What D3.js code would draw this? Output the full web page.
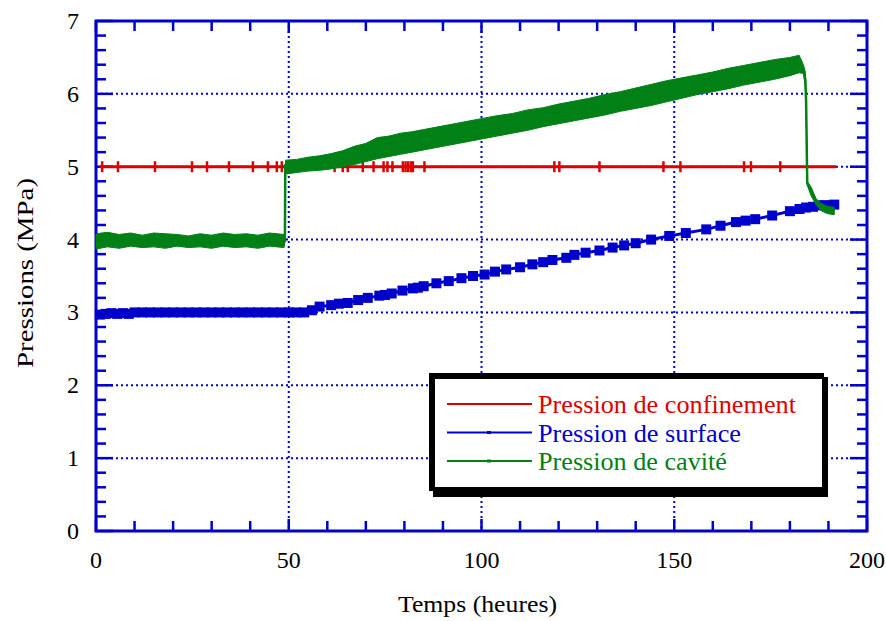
<!DOCTYPE html>
<html>
<head>
<meta charset="utf-8">
<script src="https://cdn.jsdelivr.net/npm/d3@7"></script>
<style>
  html, body { margin: 0; padding: 0; background: #fff; }
  svg { display: block; font-family: 'Liberation Serif', 'Times New Roman', serif; }
</style>
</head>
<body>
<div id="graph"></div>
<script>
// axis ticks
const X_MAJOR = [0, 50, 100, 150, 200],
      Y_MAJOR = [0, 1, 2, 3, 4, 5, 6, 7],
      X_MINOR = d3.range(0, 201, 10),
      Y_MINOR = d3.range(0, 7.01, 0.2)

// Pression de confinement (MPa): flat line + hours where a marker shows
const confinementHours = [1, 192],
      confinementValues = [5.0, 5.0],
      confinementMarks = [1.6, 5.7, 15.3, 24.9, 28.8, 34.5, 40.7, 44.6, 46.9, 48.2, 61.9, 64, 65.3,
        69.2, 72, 74.6, 75.6, 76.9, 79.6, 80.3, 81, 81.7, 82.2, 85.2, 118.9, 120.2, 130.6, 147.2,
        151.6, 168.1, 169.9, 177.5]

// Pression de surface (MPa)
const surfaceHours = [1, 2.5, 4, 5.5, 7, 8.5, 10, 12, 14, 16, 18, 20, 22, 24, 26, 28, 30, 32, 34,
        36, 38, 40, 42, 44, 46, 48, 50, 52, 54, 56, 58, 61, 63, 65.3, 68, 70.5, 73.5, 75, 76.7, 79.5,
        82.2, 83.5, 85, 88.3, 91.5, 94.8, 97.8, 100.8, 103.5, 106.4, 110, 113.2, 116, 118.4, 122,
        124.1, 127, 130.6, 134, 137, 140, 144, 148.7, 153, 158.3, 162, 166, 168.5, 171, 175.4, 180,
        182.5, 184.2, 186, 187.5, 189, 190.2, 191.5],
      surfaceValues = [2.97, 2.98, 2.99, 2.98, 2.99, 2.98, 3.0, 3.0, 3.0, 3.0, 3.0, 3.0, 3.0, 3.0,
        3.0, 3.0, 3.0, 3.0, 3.0, 3.0, 3.0, 3.0, 3.0, 3.0, 3.0, 3.0, 3.0, 3.0, 3.0, 3.03, 3.08, 3.1,
        3.12, 3.13, 3.17, 3.2, 3.23, 3.24, 3.26, 3.3, 3.33, 3.34, 3.36, 3.4, 3.43, 3.47, 3.5, 3.52,
        3.56, 3.59, 3.62, 3.66, 3.69, 3.72, 3.75, 3.79, 3.82, 3.85, 3.89, 3.92, 3.95, 4.0, 4.05, 4.09,
        4.14, 4.19, 4.24, 4.26, 4.28, 4.33, 4.39, 4.42, 4.44, 4.45, 4.47, 4.47, 4.47, 4.48]

// Pression de cavité (MPa): noisy band, read as low / high edges
const cavityHours = [0, 3, 6, 9, 12, 15, 18, 21, 24, 27, 30, 33, 36, 39, 42, 45, 48.8, 49, 49.1,
        49.2, 52, 55, 58, 61, 64, 67, 70, 73, 76, 79, 82, 85, 88, 91, 94, 97, 100, 104, 108, 112, 116,
        120, 124, 128, 132, 136, 140, 144, 148, 152, 156, 160, 164, 168, 172, 176, 180, 182.4, 183.5,
        184, 184.2, 184.5, 185.5, 186.8, 188, 189.5, 191.5],
      cavityLow = [3.87, 3.9, 3.88, 3.91, 3.89, 3.9, 3.88, 3.91, 3.89, 3.9, 3.88, 3.91, 3.89, 3.9,
        3.88, 3.91, 3.89, 3.98, 5.0, 4.9, 4.92, 4.94, 4.95, 4.97, 5.0, 5.03, 5.07, 5.11, 5.14, 5.17,
        5.2, 5.23, 5.26, 5.29, 5.32, 5.35, 5.38, 5.42, 5.46, 5.5, 5.55, 5.59, 5.63, 5.67, 5.71, 5.76,
        5.8, 5.84, 5.89, 5.94, 5.99, 6.03, 6.07, 6.12, 6.16, 6.2, 6.25, 6.29, 6.28, 6.1, 5.85, 4.75,
        4.6, 4.48, 4.4, 4.36, 4.34],
      cavityHigh = [4.08, 4.1, 4.07, 4.09, 4.06, 4.09, 4.08, 4.07, 4.05, 4.08, 4.06, 4.09, 4.07, 4.08,
        4.06, 4.09, 4.07, 3.98, 5.0, 5.09, 5.1, 5.13, 5.15, 5.18, 5.22, 5.28, 5.32, 5.4, 5.42, 5.46,
        5.48, 5.51, 5.54, 5.57, 5.6, 5.63, 5.66, 5.7, 5.73, 5.78, 5.81, 5.86, 5.9, 5.94, 5.99, 6.03,
        6.08, 6.13, 6.18, 6.22, 6.26, 6.3, 6.35, 6.39, 6.43, 6.47, 6.5, 6.53, 6.4, 6.3, 5.95, 4.8,
        4.72, 4.56, 4.5, 4.46, 4.44]

const legendKeys = [
  { title: 'Pression de confinement', color: '#dd0000', marker: 'arrow', width: 258 },
  { title: 'Pression de surface', color: '#0000cc', marker: 'square', width: 203 },
  { title: 'Pression de cavité', color: '#008015', marker: 'square', width: 189 }
]

const SIZE = { WIDTH: 886, HEIGHT: 621 },
      PLOT = { LEFT: 96, RIGHT: 867, TOP: 21, BOTTOM: 531 },
      AXIS_BLUE = '#0000cc'

const svg = d3.select('#graph')
  .append('svg')
  .attr('width', SIZE.WIDTH)
  .attr('height', SIZE.HEIGHT)

const x = d3.scaleLinear().domain([0, 200]).range([PLOT.LEFT, PLOT.RIGHT]),
      y = d3.scaleLinear().domain([0, 7]).range([PLOT.BOTTOM, PLOT.TOP])

// dotted grid
const grid = svg.append('g')
  .attr('stroke', AXIS_BLUE)
  .attr('stroke-width', 2)
  .attr('stroke-dasharray', '2,3')
grid.selectAll('.gx')
  .data(X_MAJOR.slice(1, -1))
  .enter().append('line')
  .attr('x1', d => x(d)).attr('x2', d => x(d))
  .attr('y1', PLOT.TOP).attr('y2', PLOT.BOTTOM)
grid.selectAll('.gy')
  .data(Y_MAJOR.slice(1, -1))
  .enter().append('line')
  .attr('x1', PLOT.LEFT).attr('x2', PLOT.RIGHT)
  .attr('y1', d => y(d)).attr('y2', d => y(d))

// ticks on all four sides
const ticks = svg.append('g')
  .attr('stroke', AXIS_BLUE)
  .attr('stroke-width', 2.5)
const xTickLen = d => X_MAJOR.includes(d) ? 12 : 10,
      yTickLen = d => Y_MAJOR.includes(Math.round(d * 10) / 10) ? 17 : 10
ticks.selectAll('.xb')
  .data(X_MINOR).enter().append('line')
  .attr('x1', d => x(d)).attr('x2', d => x(d))
  .attr('y1', PLOT.BOTTOM).attr('y2', d => PLOT.BOTTOM - xTickLen(d))
ticks.selectAll('.xt')
  .data(X_MINOR).enter().append('line')
  .attr('x1', d => x(d)).attr('x2', d => x(d))
  .attr('y1', PLOT.TOP).attr('y2', d => PLOT.TOP + xTickLen(d))
ticks.selectAll('.yl')
  .data(Y_MINOR).enter().append('line')
  .attr('y1', d => y(d)).attr('y2', d => y(d))
  .attr('x1', PLOT.LEFT).attr('x2', d => PLOT.LEFT + yTickLen(d))
ticks.selectAll('.yr')
  .data(Y_MINOR).enter().append('line')
  .attr('y1', d => y(d)).attr('y2', d => y(d))
  .attr('x1', PLOT.RIGHT).attr('x2', d => PLOT.RIGHT - yTickLen(d))

svg.append('rect')
  .attr('x', PLOT.LEFT).attr('y', PLOT.TOP)
  .attr('width', PLOT.RIGHT - PLOT.LEFT).attr('height', PLOT.BOTTOM - PLOT.TOP)
  .attr('fill', 'none')
  .attr('stroke', AXIS_BLUE)
  .attr('stroke-width', 3)

// tick labels
svg.append('g').selectAll('text')
  .data(Y_MAJOR).enter().append('text')
  .attr('x', 79).attr('y', d => y(d) + 8)
  .attr('text-anchor', 'end')
  .style('font-size', '24px')
  .text(d => d)
svg.append('g').selectAll('text')
  .data(X_MAJOR).enter().append('text')
  .attr('x', d => x(d)).attr('y', 568)
  .attr('text-anchor', 'middle')
  .style('font-size', '24px')
  .text(d => d)

svg.append('text')
  .attr('x', 398).attr('y', 612)
  .attr('textLength', 159)
  .attr('lengthAdjust', 'spacingAndGlyphs')
  .style('font-size', '23px')
  .text('Temps (heures)')
svg.append('text')
  .attr('transform', `translate(33, 368) rotate(-90)`)
  .attr('textLength', 190)
  .attr('lengthAdjust', 'spacingAndGlyphs')
  .style('font-size', '23px')
  .text('Pressions (MPa)')

// confinement
const confinement = confinementHours.map((h, i) => [h, confinementValues[i]])
svg.append('path')
  .datum(confinement)
  .attr('fill', 'none')
  .attr('stroke', legendKeys[0].color)
  .attr('stroke-width', 3)
  .attr('d', d3.line().x(d => x(d[0])).y(d => y(d[1])))
svg.append('g').selectAll('line')
  .data(confinementMarks).enter().append('line')
  .attr('x1', d => x(d)).attr('x2', d => x(d))
  .attr('y1', y(5) - 5.5).attr('y2', y(5) + 5.5)
  .attr('stroke', legendKeys[0].color)
  .attr('stroke-width', 2.5)

// surface
const surface = surfaceHours.map((h, i) => [h, surfaceValues[i]])
svg.append('path')
  .datum(surface)
  .attr('fill', 'none')
  .attr('stroke', legendKeys[1].color)
  .attr('stroke-width', 3)
  .attr('d', d3.line().x(d => x(d[0])).y(d => y(d[1])))
svg.append('g').selectAll('rect')
  .data(surface).enter().append('rect')
  .attr('x', d => x(d[0]) - 5).attr('y', d => y(d[1]) - 5)
  .attr('width', 10).attr('height', 10)
  .attr('fill', legendKeys[1].color)

// cavity band
const cavity = cavityHours.map((h, i) => ({ h, lo: cavityLow[i], hi: cavityHigh[i] }))
svg.append('path')
  .datum(cavity)
  .attr('fill', legendKeys[2].color)
  .attr('stroke', legendKeys[2].color)
  .attr('stroke-width', 1)
  .attr('d', d3.area().x(d => x(d.h)).y0(d => y(d.lo)).y1(d => y(d.hi)))
svg.append('path')
  .datum(cavity)
  .attr('fill', 'none')
  .attr('stroke', legendKeys[2].color)
  .attr('stroke-width', 2.5)
  .attr('d', d3.line().x(d => x(d.h)).y(d => y((d.lo + d.hi) / 2)))

// legend
const legend = svg.append('g')
legend.append('rect')
  .attr('x', 433).attr('y', 377).attr('width', 395).attr('height', 120)
  .attr('fill', '#000')
legend.append('rect')
  .attr('x', 429).attr('y', 373).attr('width', 395).attr('height', 118)
  .attr('fill', '#000')
legend.append('rect')
  .attr('x', 435).attr('y', 379).attr('width', 387).attr('height', 108)
  .attr('fill', '#fff')
legend.selectAll('.ll')
  .data(legendKeys).enter().append('line')
  .attr('x1', 447).attr('x2', 532)
  .attr('y1', (d, i) => 404 + 28.5 * i).attr('y2', (d, i) => 404 + 28.5 * i)
  .attr('stroke', d => d.color)
  .attr('stroke-width', 2)
legend.selectAll('.lm')
  .data(legendKeys.filter(d => d.marker === 'square')).enter().append('rect')
  .attr('x', 487).attr('y', (d, i) => 404 + 28.5 * (i + 1) - 1.5)
  .attr('width', 4).attr('height', 3)
  .attr('fill', d => d.color)
legend.selectAll('text')
  .data(legendKeys).enter().append('text')
  .attr('x', 538).attr('y', (d, i) => 413 + 28.5 * i)
  .attr('textLength', d => d.width)
  .attr('lengthAdjust', 'spacingAndGlyphs')
  .style('font-size', '25px')
  .attr('fill', d => d.color)
  .text(d => d.title)
</script>
</body>
</html>
